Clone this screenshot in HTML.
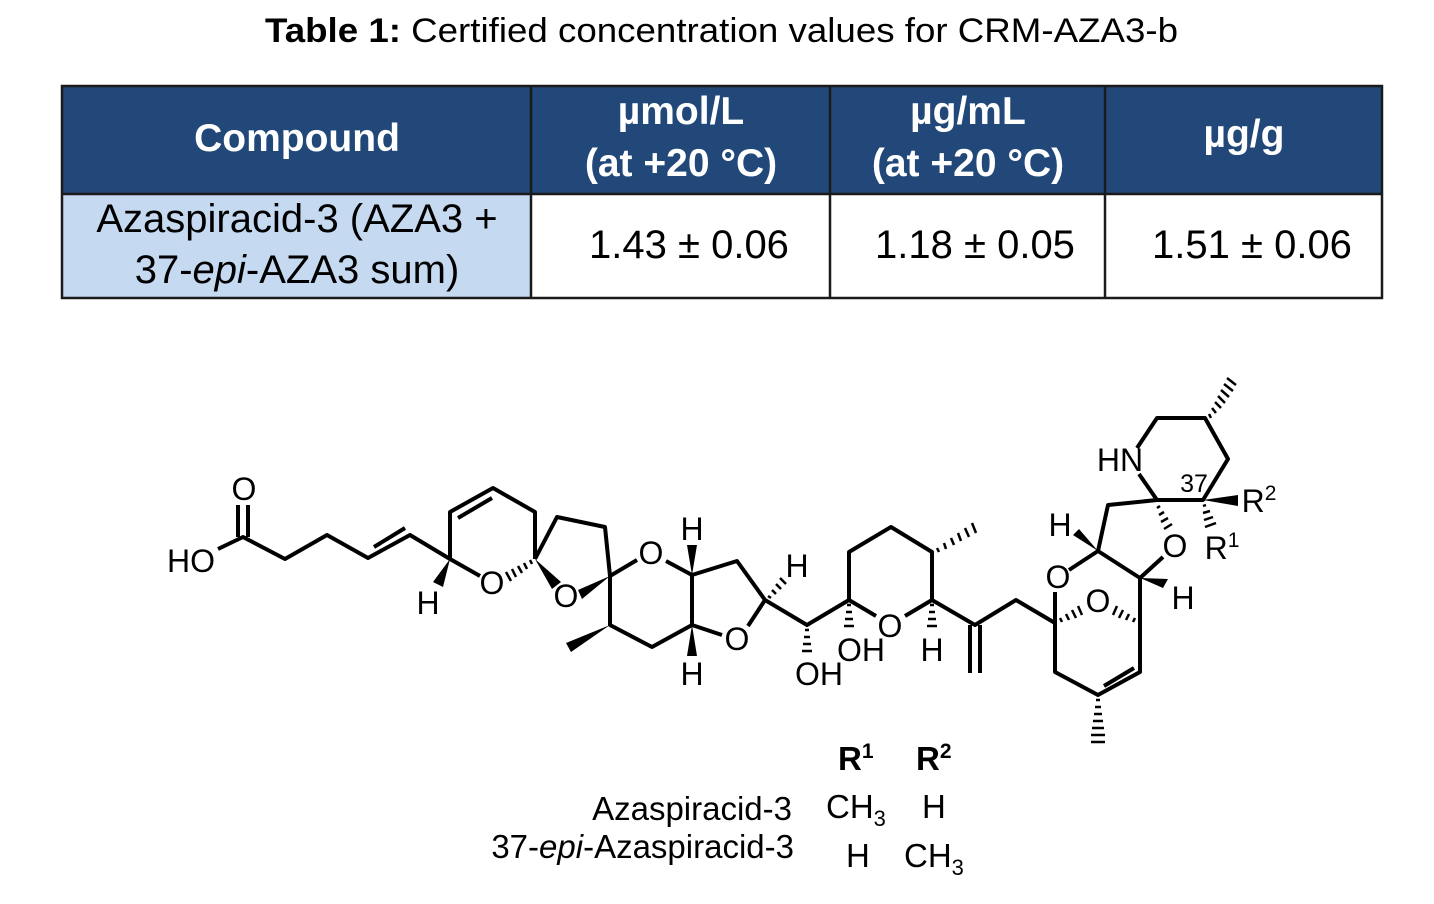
<!DOCTYPE html>
<html><head><meta charset="utf-8"><style>
html,body{margin:0;padding:0;background:#fff;width:1434px;height:904px;overflow:hidden}
svg{display:block}
text{font-family:"Liberation Sans",Arial,sans-serif}
</style></head><body>
<svg width="1434" height="904" viewBox="0 0 1434 904" xmlns="http://www.w3.org/2000/svg">
<text x="265" y="42" font-size="34" textLength="913" lengthAdjust="spacingAndGlyphs"><tspan font-weight="bold">Table 1:</tspan> Certified concentration values for CRM-AZA3-b</text>
<rect x="62" y="86" width="1320" height="108" fill="#22487a"/>
<rect x="62" y="194" width="469" height="104" fill="#c5d9f1"/>
<g stroke="#1a1a1a" stroke-width="2.5" fill="none">
<rect x="62" y="86" width="1320" height="212"/>
<line x1="62" y1="194" x2="1382" y2="194"/>
<line x1="531" y1="86" x2="531" y2="298"/>
<line x1="830" y1="86" x2="830" y2="298"/>
<line x1="1105" y1="86" x2="1105" y2="298"/>
</g>
<g fill="#fff" font-weight="bold" font-size="39" text-anchor="middle">
<text x="297" y="151">Compound</text>
<text x="681" y="124">µmol/L</text>
<text x="681" y="176">(at +20 °C)</text>
<text x="968" y="124">µg/mL</text>
<text x="968" y="176">(at +20 °C)</text>
<text x="1244" y="147">µg/g</text>
</g>
<g fill="#000" font-size="40" text-anchor="middle">
<text x="297" y="232">Azaspiracid-3 (AZA3 +</text>
<text x="297" y="283">37-<tspan font-style="italic">epi</tspan>-AZA3 sum)</text>
<text x="689" y="258">1.43 ± 0.06</text>
<text x="975" y="258">1.18 ± 0.05</text>
<text x="1252" y="258">1.51 ± 0.06</text>
</g>

<g stroke="#000" stroke-width="4" fill="none" stroke-linejoin="round" stroke-linecap="butt">
<polyline points="218,549 243,537 285,559 327,535 368,558 410,535 450,559 480,576"/>
<line x1="238" y1="505" x2="238" y2="537"/><line x1="248" y1="505" x2="248" y2="537"/>
<line x1="374" y1="547" x2="405" y2="528"/>
<polyline points="450,559 450,512 493,488 535,512 535,559"/>
<line x1="458" y1="518" x2="492" y2="498"/>
<polyline points="535,559 557,517 605,527 610,576 610,625 652,647 692,625 692,575 666,561"/>
<line x1="610" y1="576" x2="637" y2="560"/>
<polyline points="692,575 737,561 765,600 748,626"/>
<line x1="692" y1="625" x2="722" y2="635"/>
<polyline points="765,600 807,625 849,600 849,552 891,527 932,552 932,600 975,625 1016,600 1055,623 1055,672 1098,695 1140,672 1140,578"/>
<line x1="849" y1="600" x2="876" y2="616"/><line x1="932" y1="600" x2="905" y2="616"/>
<line x1="1104" y1="686" x2="1134" y2="668"/>
<line x1="970" y1="625" x2="970" y2="673"/><line x1="980" y1="625" x2="980" y2="673"/>
<line x1="1055" y1="623" x2="1055" y2="592"/>
<polyline points="1069,570 1098,551 1140,578 1163,557"/>
<polyline points="1098,551 1108,505 1157,500 1203,500 1228,459 1205,418 1157,418 1137,448"/>
<line x1="1157" y1="500" x2="1139" y2="474"/>
</g>
<g fill="#000">
<polygon points="450,559 433,582 443,587"/>
<polygon points="535,559 552,589 561,582"/>
<polygon points="610,576 578,590 582,599"/>
<polygon points="610,625 566,643 571,652"/>
<polygon points="692,575 687,545 697,545"/>
<polygon points="692,625 687,656 697,656"/>
<polygon points="1140,578 1163,588 1168,579"/>
<polygon points="1098,551 1073,535 1079,529"/>
<polygon points="1203,500 1238,495 1238,506"/>
</g>
<g stroke="#000" stroke-width="2.5">
<line x1="530" y1="560" x2="532" y2="564"/><line x1="524" y1="563" x2="527" y2="569"/><line x1="518" y1="566" x2="522" y2="573"/><line x1="512" y1="569" x2="516" y2="577"/><line x1="506" y1="572" x2="511" y2="581"/>
<line x1="768" y1="596" x2="771" y2="598"/><line x1="772" y1="590" x2="776" y2="594"/><line x1="776" y1="584" x2="781" y2="589"/><line x1="780" y1="578" x2="786" y2="584"/>
<line x1="805" y1="630" x2="809" y2="630"/><line x1="804" y1="637" x2="810" y2="637"/><line x1="803" y1="644" x2="811" y2="644"/><line x1="802" y1="651" x2="812" y2="651"/>
<line x1="847" y1="605" x2="851" y2="605"/><line x1="846" y1="612" x2="852" y2="612"/><line x1="845" y1="619" x2="853" y2="619"/><line x1="844" y1="626" x2="854" y2="626"/>
<line x1="930" y1="605" x2="934" y2="605"/><line x1="929" y1="612" x2="935" y2="612"/><line x1="928" y1="619" x2="936" y2="619"/><line x1="927" y1="626" x2="937" y2="626"/>
<line x1="937" y1="548" x2="939" y2="552"/><line x1="944" y1="543" x2="946" y2="549"/><line x1="951" y1="538" x2="954" y2="545"/><line x1="958" y1="533" x2="961" y2="541"/><line x1="965" y1="528" x2="969" y2="537"/><line x1="972" y1="523" x2="976" y2="533"/>
<line x1="1060" y1="618" x2="1062" y2="622"/><line x1="1066" y1="614" x2="1069" y2="620"/><line x1="1072" y1="610" x2="1076" y2="618"/><line x1="1078" y1="606" x2="1082" y2="615"/>
<line x1="1135" y1="618" x2="1133" y2="622"/><line x1="1129" y1="614" x2="1126" y2="620"/><line x1="1123" y1="610" x2="1119" y2="618"/><line x1="1117" y1="606" x2="1113" y2="615"/>
<line x1="1096" y1="700" x2="1100" y2="700"/><line x1="1095" y1="707" x2="1101" y2="707"/><line x1="1094" y1="714" x2="1102" y2="714"/><line x1="1093" y1="721" x2="1103" y2="721"/><line x1="1092" y1="728" x2="1104" y2="728"/><line x1="1091" y1="735" x2="1105" y2="735"/><line x1="1091" y1="742" x2="1105" y2="742"/>
<line x1="1160" y1="506" x2="1157" y2="508"/><line x1="1164" y1="512" x2="1159" y2="515"/><line x1="1168" y1="518" x2="1161" y2="522"/><line x1="1172" y1="524" x2="1164" y2="529"/>
<line x1="1203" y1="506" x2="1206" y2="505"/><line x1="1203" y1="513" x2="1210" y2="511"/><line x1="1204" y1="520" x2="1213" y2="517"/><line x1="1205" y1="527" x2="1216" y2="523"/>
<line x1="1209" y1="414" x2="1211" y2="418"/><line x1="1212" y1="408" x2="1216" y2="413"/><line x1="1215" y1="402" x2="1221" y2="408"/><line x1="1218" y1="396" x2="1225" y2="403"/><line x1="1221" y1="390" x2="1229" y2="397"/><line x1="1224" y1="384" x2="1233" y2="391"/><line x1="1227" y1="378" x2="1236" y2="385"/>
</g>
<g font-size="32" fill="#000" text-anchor="middle">
<text x="244" y="500">O</text>
<text x="191" y="572">HO</text>
<text x="428" y="614">H</text>
<text x="492" y="594">O</text>
<text x="566" y="607">O</text>
<text x="651" y="564">O</text>
<text x="692" y="540">H</text>
<text x="692" y="685">H</text>
<text x="737" y="650">O</text>
<text x="797" y="577">H</text>
<text x="890" y="637">O</text>
<text x="819" y="685">OH</text>
<text x="861" y="661">OH</text>
<text x="932" y="661">H</text>
<text x="1058" y="588">O</text>
<text x="1098" y="612">O</text>
<text x="1175" y="557">O</text>
<text x="1060" y="536">H</text>
<text x="1183" y="609">H</text>
<text x="1120" y="471">HN</text>
<text x="1259" y="512">R<tspan font-size="21" dy="-12">2</tspan></text>
<text x="1222" y="559">R<tspan font-size="21" dy="-12">1</tspan></text>
</g>
<text x="1194" y="492" font-size="25" text-anchor="middle">37</text>
<g font-size="33" fill="#000">
<text x="838" y="770" font-weight="bold">R<tspan font-size="21" dy="-12">1</tspan></text>
<text x="916" y="770" font-weight="bold">R<tspan font-size="21" dy="-12">2</tspan></text>
<text x="792" y="820" text-anchor="end">Azaspiracid-3</text>
<text x="794" y="858" text-anchor="end">37-<tspan font-style="italic">epi</tspan>-Azaspiracid-3</text>
<text x="826" y="818">CH<tspan font-size="22" dy="8">3</tspan></text>
<text x="922" y="818">H</text>
<text x="846" y="867">H</text>
<text x="904" y="867">CH<tspan font-size="22" dy="8">3</tspan></text>
</g>
</svg>
</body></html>
